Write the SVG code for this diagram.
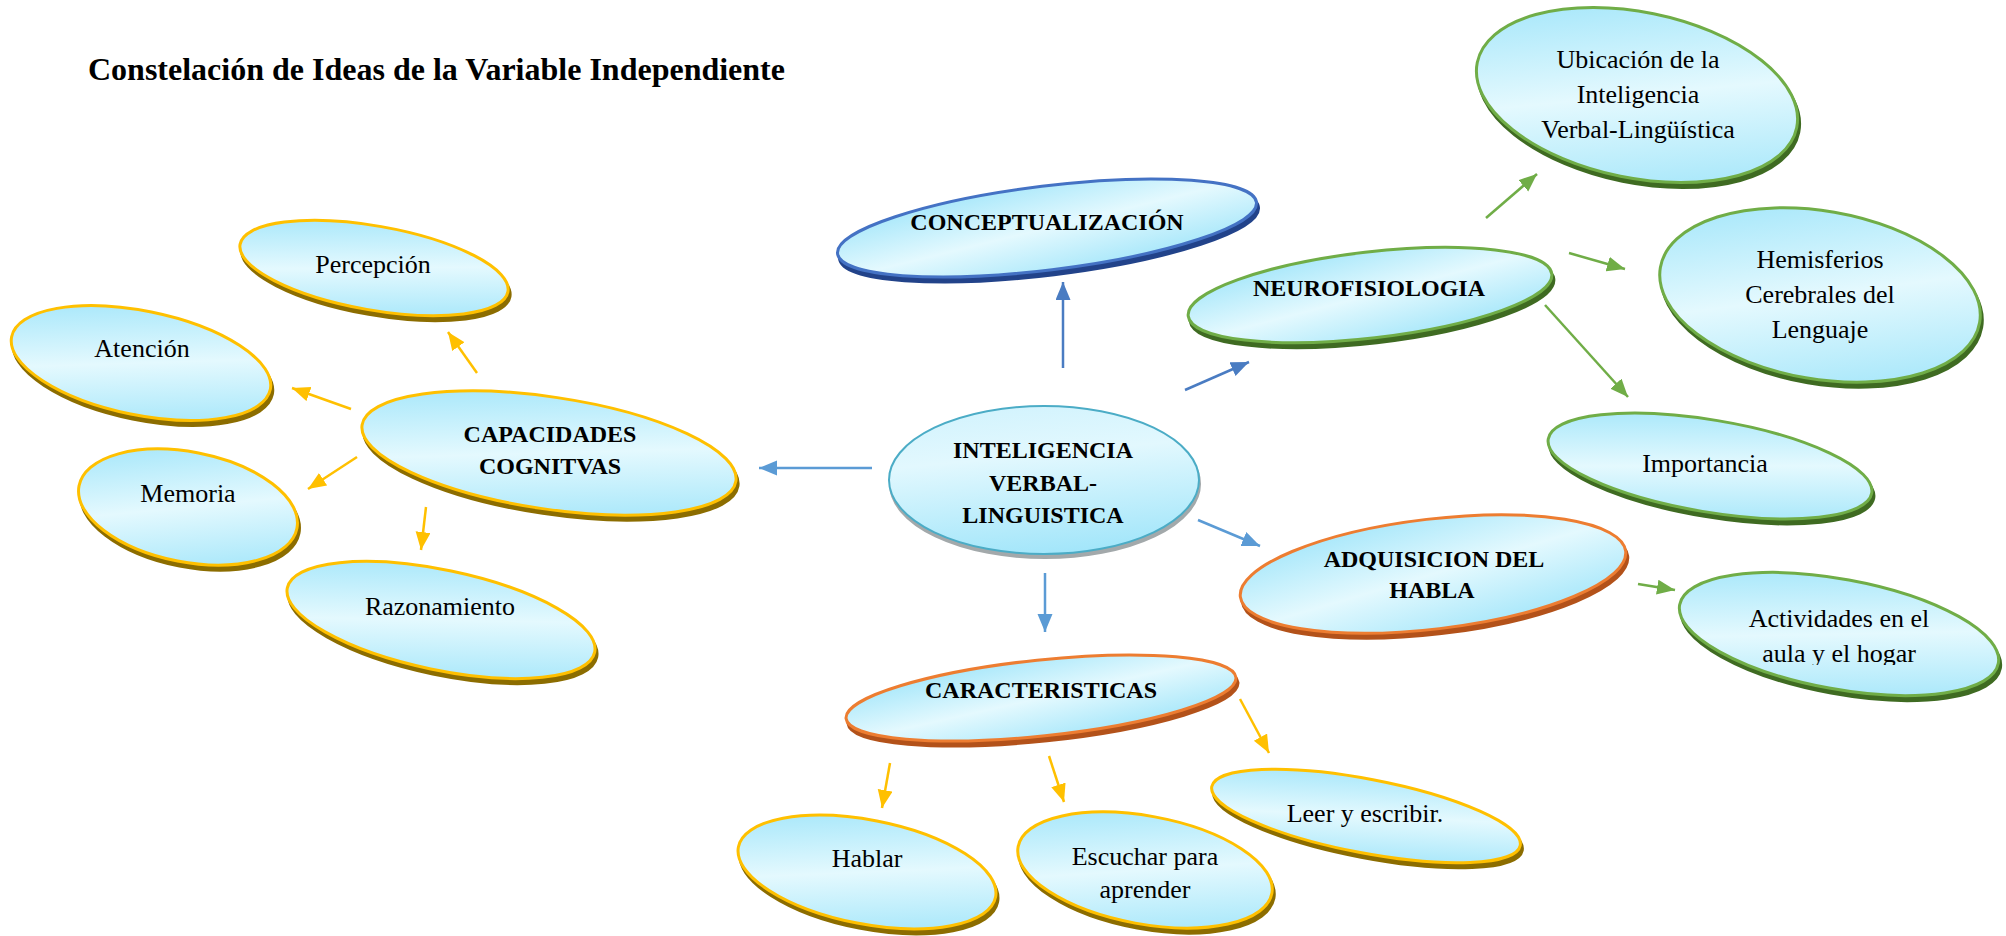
<svg xmlns="http://www.w3.org/2000/svg" width="2006" height="936" viewBox="0 0 2006 936">
<style>
.lbl{font-family:"Liberation Serif","Times New Roman",serif;font-size:26px;fill:#000;text-anchor:middle}
.bld{font-family:"Liberation Serif","Times New Roman",serif;font-size:24px;font-weight:bold;fill:#000;text-anchor:middle}
.title{font-family:"Liberation Serif","Times New Roman",serif;font-size:32px;font-weight:bold;fill:#000}
.face{fill:url(#fillGrad)}
.gold .face{stroke:#FFC000;stroke-width:3}
.gold .sh{fill:#8c6d00;stroke:#8c6d00;stroke-width:3}
.blue .face{stroke:#4472C4;stroke-width:3}
.blue .sh{fill:#22438a;stroke:#22438a;stroke-width:3}
.green .face{stroke:#70AD47;stroke-width:3}
.green .sh{fill:#3f6b22;stroke:#3f6b22;stroke-width:3}
.orange .face{stroke:#ED7D31;stroke-width:3}
.orange .sh{fill:#b3521a;stroke:#b3521a;stroke-width:3}
.teal .face{stroke:#4BACC6;stroke-width:2;fill:url(#centerGrad)}
.teal .sh{fill:#a3a9ab;stroke:#a3a9ab;stroke-width:2}
.c{fill:none;stroke-width:2.5}
.cb{stroke:#5B9BD5;marker-end:url(#ab)}
.cd{stroke:#4A7CC2;marker-end:url(#ad)}
.cg{stroke:#FFC000;marker-end:url(#ag)}
.cn{stroke:#70AD47;marker-end:url(#an)}
</style>
<defs>
<linearGradient id="fillGrad" x1="0.2" y1="0" x2="0.8" y2="1">
<stop offset="0" stop-color="#a3e6fa"/>
<stop offset="0.5" stop-color="#e4f9fe"/>
<stop offset="1" stop-color="#a3e6fa"/>
</linearGradient>
<linearGradient id="centerGrad" x1="0.3" y1="0" x2="0.5" y2="1">
<stop offset="0" stop-color="#d2f3fd"/>
<stop offset="0.35" stop-color="#e2f8fe"/>
<stop offset="1" stop-color="#a3e6fa"/>
</linearGradient>
<marker id="ab" markerUnits="userSpaceOnUse" markerWidth="20" markerHeight="16" refX="18" refY="7.5" orient="auto"><path d="M0,0 L18,7.5 L0,15 Z" fill="#5B9BD5"/></marker>
<marker id="ad" markerUnits="userSpaceOnUse" markerWidth="20" markerHeight="16" refX="18" refY="7.5" orient="auto"><path d="M0,0 L18,7.5 L0,15 Z" fill="#4A7CC2"/></marker>
<marker id="ag" markerUnits="userSpaceOnUse" markerWidth="20" markerHeight="16" refX="18" refY="7.5" orient="auto"><path d="M0,0 L18,7.5 L0,15 Z" fill="#FFC000"/></marker>
<marker id="an" markerUnits="userSpaceOnUse" markerWidth="20" markerHeight="16" refX="18" refY="7.5" orient="auto"><path d="M0,0 L18,7.5 L0,15 Z" fill="#70AD47"/></marker>
<clipPath id="clipAct"><rect x="-170" y="-80" width="340" height="111"/></clipPath>
</defs>
<rect width="2006" height="936" fill="#fff"/>
<text class="title" x="88" y="80">Constelación de Ideas de la Variable Independiente</text>

<g id="connectors">
<line class="c cb" x1="872" y1="468" x2="759" y2="468"/>
<line class="c cd" x1="1063" y1="368" x2="1063" y2="282"/>
<line class="c cd" x1="1185" y1="390" x2="1249" y2="362"/>
<line class="c cb" x1="1198" y1="520" x2="1260" y2="546"/>
<line class="c cb" x1="1045" y1="573" x2="1045" y2="632"/>
<line class="c cg" x1="477" y1="373" x2="448" y2="332"/>
<line class="c cg" x1="351" y1="409" x2="292" y2="388"/>
<line class="c cg" x1="357" y1="457" x2="308" y2="489"/>
<line class="c cg" x1="426" y1="507" x2="421" y2="550"/>
<line class="c cg" x1="890" y1="763" x2="882" y2="808"/>
<line class="c cg" x1="1049" y1="756" x2="1064" y2="802"/>
<line class="c cg" x1="1240" y1="699" x2="1269" y2="753"/>
<line class="c cn" x1="1486" y1="218" x2="1537" y2="174"/>
<line class="c cn" x1="1569" y1="253" x2="1625" y2="269"/>
<line class="c cn" x1="1545" y1="305" x2="1628" y2="397"/>
<line class="c cn" x1="1638" y1="584" x2="1675" y2="590"/>
</g>

<g id="node-percepcion" class="gold" transform="translate(374,268)">
<ellipse class="sh" rx="136" ry="42" transform="translate(2,5) rotate(10)"/>
<ellipse class="face" rx="136" ry="42" transform="rotate(10)"/>
<text class="lbl" x="-1" y="5">Percepción</text>
</g>
<g id="node-atencion" class="gold" transform="translate(141,363)">
<ellipse class="sh" rx="132" ry="52" transform="translate(2,5) rotate(11.5)"/>
<ellipse class="face" rx="132" ry="52" transform="rotate(11.5)"/>
<text class="lbl" x="1" y="-6">Atención</text>
</g>
<g id="node-memoria" class="gold" transform="translate(188,507)">
<ellipse class="sh" rx="111" ry="55" transform="translate(2,5) rotate(11)"/>
<ellipse class="face" rx="111" ry="55" transform="rotate(11)"/>
<text class="lbl" x="0" y="-5">Memoria</text>
</g>
<g id="node-razonamiento" class="gold" transform="translate(441,620)">
<ellipse class="sh" rx="157" ry="50" transform="translate(2,5) rotate(11.8)"/>
<ellipse class="face" rx="157" ry="50" transform="rotate(11.8)"/>
<text class="lbl" x="-1" y="-5">Razonamiento</text>
</g>
<g id="node-capacidades" class="gold" transform="translate(549,453)">
<ellipse class="sh" rx="189" ry="56" transform="translate(2,5) rotate(8.5)"/>
<ellipse class="face" rx="189" ry="56" transform="rotate(8.5)"/>
<text class="bld" x="1" y="-11">CAPACIDADES</text>
<text class="bld" x="1" y="21">COGNITVAS</text>
</g>
<g id="node-inteligencia" class="teal" transform="translate(1044,480)">
<ellipse class="sh" rx="155" ry="74" transform="translate(1,4)"/>
<ellipse class="face" rx="155" ry="74"/>
<text class="bld" x="-1" y="-22">INTELIGENCIA</text>
<text class="bld" x="-1" y="11">VERBAL-</text>
<text class="bld" x="-1" y="43">LINGUISTICA</text>
</g>
<g id="node-conceptualizacion" class="blue" transform="translate(1047,228)">
<ellipse class="sh" rx="211" ry="42" transform="translate(2,5) rotate(-7)"/>
<ellipse class="face" rx="211" ry="42" transform="rotate(-7)"/>
<text class="bld" x="0" y="2">CONCEPTUALIZACIÓN</text>
</g>
<g id="node-neurofisiologia" class="green" transform="translate(1370,295)">
<ellipse class="sh" rx="183" ry="43" transform="translate(2,5) rotate(-6.6)"/>
<ellipse class="face" rx="183" ry="43" transform="rotate(-6.6)"/>
<text class="bld" x="-1" y="1">NEUROFISIOLOGIA</text>
</g>
<g id="node-ubicacion" class="green" transform="translate(1637,95)">
<ellipse class="sh" rx="163" ry="83" transform="translate(2,5) rotate(11.5)"/>
<ellipse class="face" rx="163" ry="83" transform="rotate(11.5)"/>
<text class="lbl" x="1" y="-27">Ubicación de la</text>
<text class="lbl" x="1" y="8">Inteligencia</text>
<text class="lbl" x="1" y="43">Verbal-Lingüística</text>
</g>
<g id="node-hemisferios" class="green" transform="translate(1820,295)">
<ellipse class="sh" rx="162" ry="84" transform="translate(2,5) rotate(9.8)"/>
<ellipse class="face" rx="162" ry="84" transform="rotate(9.8)"/>
<text class="lbl" x="0" y="-27">Hemisferios</text>
<text class="lbl" x="0" y="8">Cerebrales del</text>
<text class="lbl" x="0" y="43">Lenguaje</text>
</g>
<g id="node-importancia" class="green" transform="translate(1710,466)">
<ellipse class="sh" rx="164" ry="46" transform="translate(2,5) rotate(9.5)"/>
<ellipse class="face" rx="164" ry="46" transform="rotate(9.5)"/>
<text class="lbl" x="-5" y="6">Importancia</text>
</g>
<g id="node-adquisicion" class="orange" transform="translate(1433,574)">
<ellipse class="sh" rx="194" ry="55" transform="translate(2,5) rotate(-6.75)"/>
<ellipse class="face" rx="194" ry="55" transform="rotate(-6.75)"/>
<text class="bld" x="1" y="-7">ADQUISICION DEL</text>
<text class="bld" x="-1" y="24">HABLA</text>
</g>
<g id="node-actividades" class="green" transform="translate(1839,634)">
<ellipse class="sh" rx="162" ry="55" transform="translate(2,5) rotate(10.4)"/>
<ellipse class="face" rx="162" ry="55" transform="rotate(10.4)"/>
<g clip-path="url(#clipAct)">
<text class="lbl" x="0" y="-7">Actividades en el</text>
<text class="lbl" x="0" y="28">aula y el hogar</text>
</g>
</g>
<g id="node-caracteristicas" class="orange" transform="translate(1041,698)">
<ellipse class="sh" rx="196" ry="38" transform="translate(2,5) rotate(-6)"/>
<ellipse class="face" rx="196" ry="38" transform="rotate(-6)"/>
<text class="bld" x="0" y="0">CARACTERISTICAS</text>
</g>
<g id="node-hablar" class="gold" transform="translate(867,872)">
<ellipse class="sh" rx="131" ry="52" transform="translate(2,5) rotate(11)"/>
<ellipse class="face" rx="131" ry="52" transform="rotate(11)"/>
<text class="lbl" x="0" y="-5">Hablar</text>
</g>
<g id="node-escuchar" class="gold" transform="translate(1145,870)">
<ellipse class="sh" rx="129" ry="54" transform="translate(2,5) rotate(10.4)"/>
<ellipse class="face" rx="129" ry="54" transform="rotate(10.4)"/>
<text class="lbl" x="0" y="-5">Escuchar para</text>
<text class="lbl" x="0" y="28">aprender</text>
</g>
<g id="node-leer" class="gold" transform="translate(1366,816)">
<ellipse class="sh" rx="157" ry="37" transform="translate(2,5) rotate(10.8)"/>
<ellipse class="face" rx="157" ry="37" transform="rotate(10.8)"/>
<text class="lbl" x="-1" y="6">Leer y escribir.</text>
</g>
</svg>
